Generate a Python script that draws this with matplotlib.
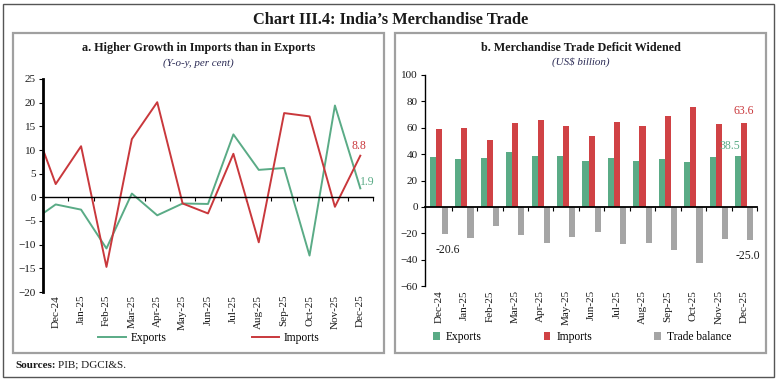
import matplotlib
matplotlib.use('Agg')
import matplotlib.pyplot as plt
from matplotlib.patches import Rectangle
import numpy as np

plt.rcParams['font.family'] = ['Liberation Serif', 'DejaVu Serif']

months = ['Dec-24', 'Jan-25', 'Feb-25', 'Mar-25', 'Apr-25', 'May-25', 'Jun-25',
          'Jul-25', 'Aug-25', 'Sep-25', 'Oct-25', 'Nov-25', 'Dec-25']

# panel a: y-o-y growth, line starts half a category before Dec-24
exports_growth = [-3.4, -1.5, -2.6, -10.8, 0.8, -3.8, -1.3, -1.4, 13.3, 5.8, 6.2, -12.3, 19.4, 1.9]
imports_growth = [10.1, 2.8, 10.8, -14.7, 12.3, 20.1, -1.3, -3.4, 9.2, -9.5, 17.8, 17.1, -2.0, 8.8]

# panel b: US$ billion
exports_bn = [37.8, 36.0, 36.8, 41.6, 38.4, 38.4, 35.0, 36.9, 34.7, 36.1, 33.9, 38.0, 38.5]
imports_bn = [58.7, 59.7, 51.0, 63.5, 65.5, 61.0, 53.9, 64.7, 61.6, 69.0, 76.1, 62.7, 63.6]
balance_bn = [-20.6, -23.3, -14.3, -21.5, -27.2, -22.7, -19.3, -28.2, -27.2, -32.9, -42.2, -24.6, -25.0]

green = '#5aab86'
red = '#c9383c'
bar_red = '#d04245'
gray = '#a5a5a5'
txt = '#1a1a1a'
navy = '#2b2b55'

W, H = 781, 381
fig = plt.figure(figsize=(W / 100, H / 100), dpi=100)


def fx(x):
    return x / W


def fy(y):
    return 1 - y / H


# frames
fig.patches.append(Rectangle((fx(3), fy(377)), fx(771), 373 / H, transform=fig.transFigure,
                             fill=False, edgecolor='#555555', linewidth=1.0))
for x0 in [13, 395]:
    fig.patches.append(Rectangle((fx(x0), fy(353)), fx(371), 320 / H, transform=fig.transFigure,
                                 fill=False, edgecolor='#a0a0a0', linewidth=1.6))

fig.text(0.5, fy(20), "Chart III.4: India\u2019s Merchandise Trade", ha='center', va='center',
         fontsize=11.8, fontweight='bold', color=txt)

cats = np.arange(len(months))

# ---------------- panel a ----------------
ax1 = fig.add_axes([fx(43), fy(292), fx(330), 213 / H])
x_line = np.r_[-0.5, cats]
ax1.plot(x_line, exports_growth, color=green, lw=1.4, label='Exports')
ax1.plot(x_line, imports_growth, color=red, lw=1.4, label='Imports')
ax1.set_xlim(-0.5, 12.5)
ax1.set_ylim(-20, 25)
ax1.set_yticks(np.arange(-20, 26, 5))
ax1.spines['top'].set_visible(False)
ax1.spines['right'].set_visible(False)
ax1.spines['left'].set_linewidth(2.0)
ax1.spines['bottom'].set_position(('data', 0))
ax1.spines['bottom'].set_linewidth(1.0)
ax1.set_xticks(cats + 0.5)
ax1.set_xticklabels([])
ax1.tick_params(axis='x', length=3, width=0.8, direction='out')
ax1.tick_params(axis='y', length=3, width=0.8, labelsize=8, labelcolor=txt, pad=2)
sec1 = ax1.secondary_xaxis('bottom')
sec1.set_xticks(cats)
sec1.set_xticklabels(months, rotation=90, fontsize=8, color=txt)
sec1.tick_params(length=0, pad=2)
sec1.spines['bottom'].set_visible(False)

ax1.annotate('8.8', (cats[-1], imports_growth[-1]), xytext=(-1, 10), textcoords='offset pixels',
             ha='center', va='center', fontsize=8.5, color=red)
ax1.annotate('1.9', (cats[-1], exports_growth[-1]), xytext=(7, 6), textcoords='offset pixels',
             ha='center', va='center', fontsize=8.5, color=green)

fig.text(fx(198.5), fy(48), 'a. Higher Growth in Imports than in Exports', ha='center', va='center',
         fontsize=8.7, fontweight='bold', color=txt)
fig.text(fx(198.5), fy(63), '(Y-o-y, per cent)', ha='center', va='center',
         fontsize=7.9, style='italic', color=navy)

leg1 = ax1.legend(loc='center', bbox_to_anchor=(fx(209), fy(338)), bbox_transform=fig.transFigure,
                  ncol=2, frameon=False, fontsize=8.3, handlelength=2.4, columnspacing=7.4,
                  handletextpad=0.4)

# ---------------- panel b ----------------
ax2 = fig.add_axes([fx(425), fy(286), fx(332), 211 / H])
bw = 0.24
ax2.bar(cats - bw, exports_bn, bw, color=green, label='Exports')
ax2.bar(cats, imports_bn, bw, color=bar_red, label='Imports')
ax2.bar(cats + bw, balance_bn, bw, color=gray, label='Trade balance')
ax2.set_xlim(-0.55, 12.5)
ax2.set_ylim(-60, 100)
ax2.set_yticks(np.arange(-60, 101, 20))
ax2.spines['top'].set_visible(False)
ax2.spines['right'].set_visible(False)
ax2.spines['left'].set_linewidth(1.0)
ax2.spines['bottom'].set_position(('data', 0))
ax2.spines['bottom'].set_linewidth(1.3)
ax2.set_xticks(cats + 0.5)
ax2.set_xticklabels([])
ax2.tick_params(axis='x', length=3, width=0.8, direction='out')
ax2.tick_params(axis='y', length=3, width=0.8, labelsize=8, labelcolor=txt, pad=2)
sec2 = ax2.secondary_xaxis('bottom')
sec2.set_xticks(cats)
sec2.set_xticklabels(months, rotation=90, fontsize=8, color=txt)
sec2.tick_params(length=0, pad=3)
sec2.spines['bottom'].set_visible(False)

ax2.annotate('63.6', (cats[-1], imports_bn[-1]), xytext=(-1, 6), textcoords='offset pixels',
             ha='center', va='bottom', fontsize=8.5, color=red)
ax2.annotate('38.5', (cats[-1] - bw, exports_bn[-1]), xytext=(-8, 4), textcoords='offset pixels',
             ha='center', va='bottom', fontsize=8.5, color=green)
ax2.annotate('-20.6', (cats[0] + bw, balance_bn[0]), xytext=(3, -10), textcoords='offset pixels',
             ha='center', va='top', fontsize=8.5, color=txt)
ax2.annotate('-25.0', (cats[-1] + bw, balance_bn[-1]), xytext=(-3, -10), textcoords='offset pixels',
             ha='center', va='top', fontsize=8.5, color=txt)

fig.text(fx(580.5), fy(48), 'b. Merchandise Trade Deficit Widened', ha='center', va='center',
         fontsize=8.7, fontweight='bold', color=txt)
fig.text(fx(580.5), fy(62), '(US$ billion)', ha='center', va='center',
         fontsize=7.9, style='italic', color=navy)

leg2 = ax2.legend(loc='center', bbox_to_anchor=(fx(582), fy(337)), bbox_transform=fig.transFigure,
                  ncol=3, frameon=False, fontsize=8.3, handlelength=0.6, handleheight=0.8,
                  columnspacing=5.4, handletextpad=0.5)

# sources line
renderer = fig.canvas.get_renderer()
s1 = fig.text(fx(15), fy(368), 'Sources:', ha='left', va='baseline', fontsize=8, fontweight='bold', color=txt)
bb = s1.get_window_extent(renderer=renderer)
fig.text(bb.x1 / W + fx(2), fy(368), 'PIB; DGCI&S.', ha='left', va='baseline', fontsize=8, color=txt)

fig.savefig('out.png', dpi=100)
